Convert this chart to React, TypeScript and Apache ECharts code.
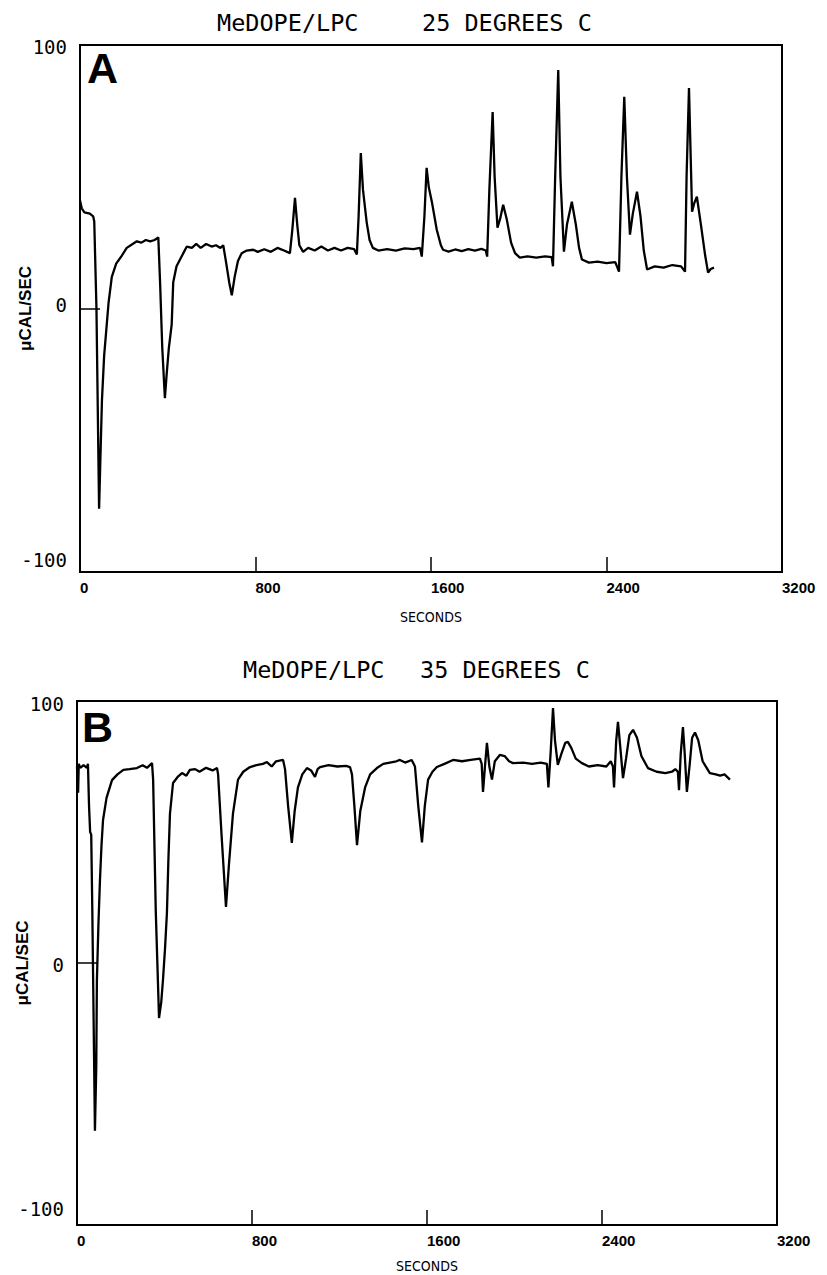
import React, { useEffect, useRef } from "react";
import * as echarts from "echarts";

// Panel A: MeDOPE/LPC 25 °C  — [seconds, µcal/sec]
const traceA: [number, number][] = [
  [0, 41], [8, 38], [20, 36.5], [45, 36], [60, 35], [65, 33], [75, 0], [87, -76], [92, -60], [100, -35],
  [110, -18], [120, -8], [130, 2], [145, 12], [165, 17], [190, 20], [213, 23], [240, 24.5], [259, 25.5],
  [280, 25], [300, 26], [320, 25.5], [340, 26], [357, 27], [365, 10], [375, -15], [387, -34], [395, -25],
  [405, -15], [418, -6], [425, 10], [440, 16], [471, 21], [487, 23.5], [510, 23], [530, 24.5], [550, 23],
  [575, 24.5], [600, 23.5], [620, 24], [640, 23], [653, 24], [665, 18], [680, 10], [692, 5], [705, 12],
  [720, 18], [737, 21], [760, 22], [790, 22.3], [810, 21.5], [840, 22.5], [870, 21.5], [900, 23], [930, 22],
  [957, 21], [968, 30], [980, 42], [990, 32], [1000, 24], [1017, 21.5], [1040, 23], [1070, 22], [1100, 23.5],
  [1130, 22], [1160, 23], [1190, 22], [1220, 23], [1250, 22.5], [1262, 20.5], [1270, 35], [1280, 59],
  [1290, 45], [1307, 32.6], [1320, 26], [1335, 23], [1360, 22], [1400, 22.5], [1440, 22], [1480, 22.8],
  [1520, 22.5], [1550, 23], [1558, 19.7], [1570, 35], [1580, 53.4], [1590, 46], [1605, 40], [1626, 30],
  [1645, 24], [1655, 22.3], [1680, 21.6], [1710, 22.4], [1740, 21.8], [1770, 22.5], [1800, 22], [1830, 22.6],
  [1850, 22], [1856, 19.7], [1866, 45], [1881, 74.6], [1890, 50], [1903, 30.7], [1915, 34], [1929, 39.4],
  [1945, 34], [1965, 25], [1983, 21], [2005, 19.3], [2040, 19.8], [2080, 19.3], [2120, 19.8], [2150, 19.5],
  [2156, 16], [2166, 50], [2180, 90.5], [2190, 50], [2206, 21.6], [2220, 32], [2242, 40.5], [2260, 32],
  [2275, 23], [2288, 18.6], [2320, 17.4], [2360, 17.8], [2400, 17.2], [2440, 17.6], [2457, 14], [2468, 50],
  [2481, 80.3], [2493, 50], [2507, 28], [2520, 36], [2539, 44.3], [2555, 35], [2570, 22], [2585, 14.8],
  [2620, 16], [2660, 15.5], [2700, 16.5], [2740, 16], [2758, 14], [2765, 50], [2776, 83.7], [2783, 60],
  [2790, 36.7], [2800, 40], [2812, 42.4], [2830, 32], [2850, 20], [2863, 13.6], [2875, 15], [2890, 15.5],
];

// Panel B: MeDOPE/LPC 35 °C — [seconds, µcal/sec]
const traceB: [number, number][] = [
  [0, 75], [5, 65], [8, 76], [15, 74.5], [30, 75.5], [45, 74.5], [50, 76], [55, 60], [60, 50], [65, 49],
  [70, 20], [82, -64], [88, -40], [91, -6.5], [98, 15], [105, 31.7], [112, 45], [119, 54.6], [135, 63],
  [160, 69.8], [185, 72], [212, 73.7], [240, 74], [274, 74.4], [300, 75.5], [320, 74.5], [343, 76.3],
  [348, 70], [360, 20], [375, -21], [385, -15], [393, -6.5], [402, 5], [411, 19], [418, 40], [425, 57],
  [439, 68.7], [460, 71], [480, 72.5], [500, 71.5], [516, 73.7], [540, 74], [560, 73], [590, 74.5],
  [620, 73.5], [640, 74.4], [645, 72], [660, 50], [681, 21.4], [695, 38], [713, 57], [736, 70], [760, 73],
  [791, 74.8], [820, 75.5], [850, 76], [868, 76.7], [890, 75], [910, 77], [942, 77.5], [951, 74], [965, 60],
  [982, 45.8], [995, 58], [1010, 67], [1030, 72], [1051, 74.4], [1070, 73.5], [1088, 71], [1100, 74],
  [1111, 74.8], [1150, 75.5], [1190, 75], [1230, 75.2], [1248, 74.8], [1257, 72], [1268, 60], [1280, 45],
  [1295, 58], [1317, 67], [1340, 72], [1371, 74.4], [1400, 76], [1430, 76.5], [1460, 77], [1476, 77.5],
  [1500, 76.5], [1530, 77.5], [1545, 75], [1560, 60], [1577, 46], [1590, 60], [1605, 70], [1625, 73],
  [1645, 74.8], [1680, 76], [1719, 77.5], [1760, 77], [1800, 77.5], [1842, 78], [1850, 76], [1856, 65.3],
  [1865, 75], [1874, 84], [1885, 75], [1897, 70], [1910, 77], [1933, 79.4], [1955, 79], [1975, 77],
  [1993, 76.3], [2040, 76.5], [2080, 76], [2120, 76.5], [2148, 76], [2155, 67], [2165, 80], [2176, 97.3],
  [2185, 85], [2198, 75.6], [2215, 80], [2232, 84], [2244, 84.4], [2260, 82], [2280, 78], [2308, 76.3],
  [2340, 75], [2380, 75.5], [2420, 75], [2440, 77], [2450, 75], [2455, 67], [2465, 85], [2473, 92],
  [2484, 82], [2496, 70.6], [2510, 78], [2525, 87], [2542, 89], [2560, 86], [2580, 79], [2610, 74.4],
  [2650, 73], [2690, 72.5], [2720, 73], [2735, 74], [2747, 73], [2752, 66], [2760, 80], [2770, 90],
  [2778, 80], [2788, 65.3], [2800, 75], [2812, 86], [2825, 88], [2840, 85], [2860, 77], [2893, 72.5],
  [2920, 72], [2940, 71.5], [2960, 72], [2985, 70],
];

const panelTitlesLeft = ["MeDOPE/LPC", "MeDOPE/LPC"];
const panelTitlesRight = ["25 DEGREES C", "35 DEGREES C"];
const panelLetters = ["A", "B"];
const xName = "SECONDS";
const yName = "\u03bcCAL/SEC";

const MONO = "'DejaVu Sans Mono', monospace";
const NARROW = "'Liberation Sans Narrow', 'DejaVu Sans Condensed', 'Liberation Sans', sans-serif";
const SANS = "'Liberation Sans', Arial, sans-serif";

export default function App() {
  const ref = useRef<HTMLDivElement>(null);
  useEffect(() => {
    if (!ref.current) return;
    const chart = echarts.init(ref.current, undefined, { renderer: "svg" });
    const grids = [
      { left: 80, top: 45, width: 702, height: 527 },
      { left: 77, top: 701, width: 700, height: 524 },
    ];
    const xNameGap = [38, 34];
    const yPad = [
      { top: [4, 0, 0, 0], zero: [0, 0, 8, 0], low: [0, 0, 24, 0] },
      { top: [6, 0, 0, 0], zero: [4, 0, 0, 0], low: [0, 0, 32, 0] },
    ];
    const mkX = (i: number) => ({
      type: "value",
      gridIndex: i,
      min: 0,
      max: 3200,
      interval: 800,
      axisLine: { show: true, onZero: false, lineStyle: { color: "#000", width: 2 } },
      axisTick: { show: true, inside: true, length: 15, lineStyle: { color: "#000", width: 1.5 } },
      axisLabel: {
        show: true, align: "left", color: "#000", fontWeight: "bold", fontSize: 15,
        fontFamily: SANS, margin: 8, showMinLabel: true, showMaxLabel: true,
        formatter: (v: number) => String(v),
      },
      splitLine: { show: false },
      name: xName,
      nameLocation: "middle",
      nameGap: xNameGap[i],
      nameMoveOverlap: false,
      nameTextStyle: { color: "#000", fontSize: 14, fontFamily: NARROW },
    });
    const mkY = (i: number) => ({
      type: "value",
      gridIndex: i,
      min: -100,
      max: 100,
      interval: 100,
      axisLine: { show: true, onZero: false, lineStyle: { color: "#000", width: 2 } },
      axisTick: { show: true, inside: true, length: 20, lineStyle: { color: "#000", width: 1.5 } },
      axisLabel: {
        show: true, color: "#000", margin: 13, showMinLabel: true, showMaxLabel: true,
        formatter: (v: number) => (v === 100 ? `{t|${v}}` : v === 0 ? `{z|${v}}` : `{b|${v}}`),
        rich: {
          t: { fontSize: 19, fontFamily: MONO, color: "#000", padding: yPad[i].top },
          z: { fontSize: 19, fontFamily: MONO, color: "#000", padding: yPad[i].zero },
          b: { fontSize: 19, fontFamily: MONO, color: "#000", padding: yPad[i].low },
        },
      },
      splitLine: { show: false },
      name: yName,
      nameLocation: "middle",
      nameRotate: 90,
      nameGap: 46,
      nameMoveOverlap: false,
      nameTextStyle: { color: "#000", fontSize: 17, fontWeight: "bold", fontFamily: SANS },
    });
    const titleY = [22.5, 670];
    const titleLX = [217, 243];
    const titleRX = [422, 420];
    const letterPos = [[87, 67.5], [82, 727]];
    const graphic: any[] = [];
    for (let i = 0; i < 2; i++) {
      graphic.push({
        type: "text", x: titleLX[i], y: titleY[i],
        style: { text: panelTitlesLeft[i], fill: "#000", font: `23.5px ${MONO}`, textAlign: "left", textVerticalAlign: "middle" },
      });
      graphic.push({
        type: "text", x: titleRX[i], y: titleY[i],
        style: { text: panelTitlesRight[i], fill: "#000", font: `23.5px ${MONO}`, textAlign: "left", textVerticalAlign: "middle" },
      });
      graphic.push({
        type: "text", x: letterPos[i][0], y: letterPos[i][1],
        style: { text: panelLetters[i], fill: "#000", font: `bold 43px ${SANS}`, textAlign: "left", textVerticalAlign: "middle" },
      });
    }
    chart.setOption({
      animation: false,
      backgroundColor: "#fff",
      grid: grids.map((g) => ({
        ...g, show: true, borderColor: "#000", borderWidth: 2, backgroundColor: "transparent",
        containLabel: false, outerBoundsMode: "none",
      })),
      xAxis: [mkX(0), mkX(1)],
      yAxis: [mkY(0), mkY(1)],
      series: [
        {
          type: "line", xAxisIndex: 0, yAxisIndex: 0, data: traceA, showSymbol: false,
          lineStyle: { color: "#000", width: 2.3 }, smooth: false,
        },
        {
          type: "line", xAxisIndex: 1, yAxisIndex: 1, data: traceB, showSymbol: false,
          lineStyle: { color: "#000", width: 2.3 }, smooth: false,
        },
      ],
      graphic,
    });
    return () => chart.dispose();
  }, []);
  return <div ref={ref} style={{ position: "absolute", left: 0, top: 0, width: 827, height: 1275 }} />;
}
